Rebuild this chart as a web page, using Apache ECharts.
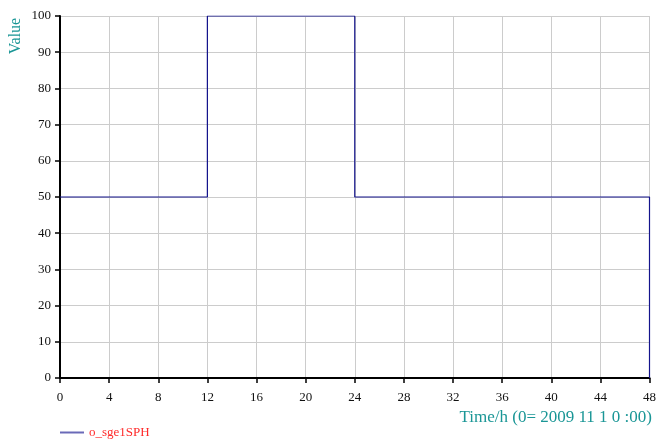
<!DOCTYPE html>
<html><head><meta charset="utf-8">
<script src="https://cdn.jsdelivr.net/npm/echarts@6/dist/echarts.min.js"></script>
<style>html,body{margin:0;padding:0;background:#fff}#c{width:659px;height:441px}</style>
</head><body><div id="c"></div>
<script>
var times = [0, 12, 24, 48];
var values = [50, 100, 50, 0];
var seriesName = 'o_sge1SPH';
var xTitle = 'Time/h (0= 2009 11 1 0 :00)';
var yTitle = 'Value';

var chart = echarts.init(document.getElementById('c'), null, {renderer: 'canvas'});
var font = '"Liberation Serif", "Times New Roman", serif';
chart.setOption({
  animation: false,
  backgroundColor: '#fff',
  textStyle: {fontFamily: font},
  grid: {left: 60, right: 5, top: 16, bottom: 63, containLabel: false},
  legend: {
    left: 60, top: 426, padding: 0, itemWidth: 24, itemHeight: 2, itemGap: 6,
    icon: 'rect',
    data: [{name: seriesName, itemStyle: {color: '#6a6ab8'}}],
    textStyle: {color: '#ff2a2a', fontSize: 13, fontFamily: font}
  },
  xAxis: {
    type: 'value', min: 0, max: 48, interval: 4,
    axisLine: {onZero: false, lineStyle: {color: '#000', width: 2}},
    axisTick: {show: true, length: 5, lineStyle: {color: '#000', width: 1.5}},
    axisLabel: {color: '#111', fontSize: 13, fontFamily: font, margin: 13},
    splitLine: {show: true, lineStyle: {color: '#cccccc', width: 1}}
  },
  yAxis: {
    type: 'value', min: 0, max: 100, interval: 10,
    axisLine: {show: true, onZero: false, lineStyle: {color: '#000', width: 2}},
    axisTick: {show: true, length: 5, lineStyle: {color: '#000', width: 1.5}},
    axisLabel: {color: '#111', fontSize: 13, fontFamily: font, margin: 9},
    splitLine: {show: true, lineStyle: {color: '#cccccc', width: 1}}
  },
  graphic: [
    {type: 'text', x: 16, y: 36, rotation: Math.PI / 2,
     style: {text: yTitle, fill: '#1a9696', font: '16px ' + font, align: 'center', verticalAlign: 'middle'}},
    {type: 'text', right: 7, top: 409,
     style: {text: xTitle, fill: '#1a9696', font: '17px ' + font}}
  ],
  series: [{
    name: seriesName, type: 'line', step: 'end', symbol: 'none',
    lineStyle: {color: '#14148c', width: 1.2},
    itemStyle: {color: '#14148c'},
    data: times.map(function (t, i) { return [t, values[i]]; })
  }]
});
</script></body></html>
